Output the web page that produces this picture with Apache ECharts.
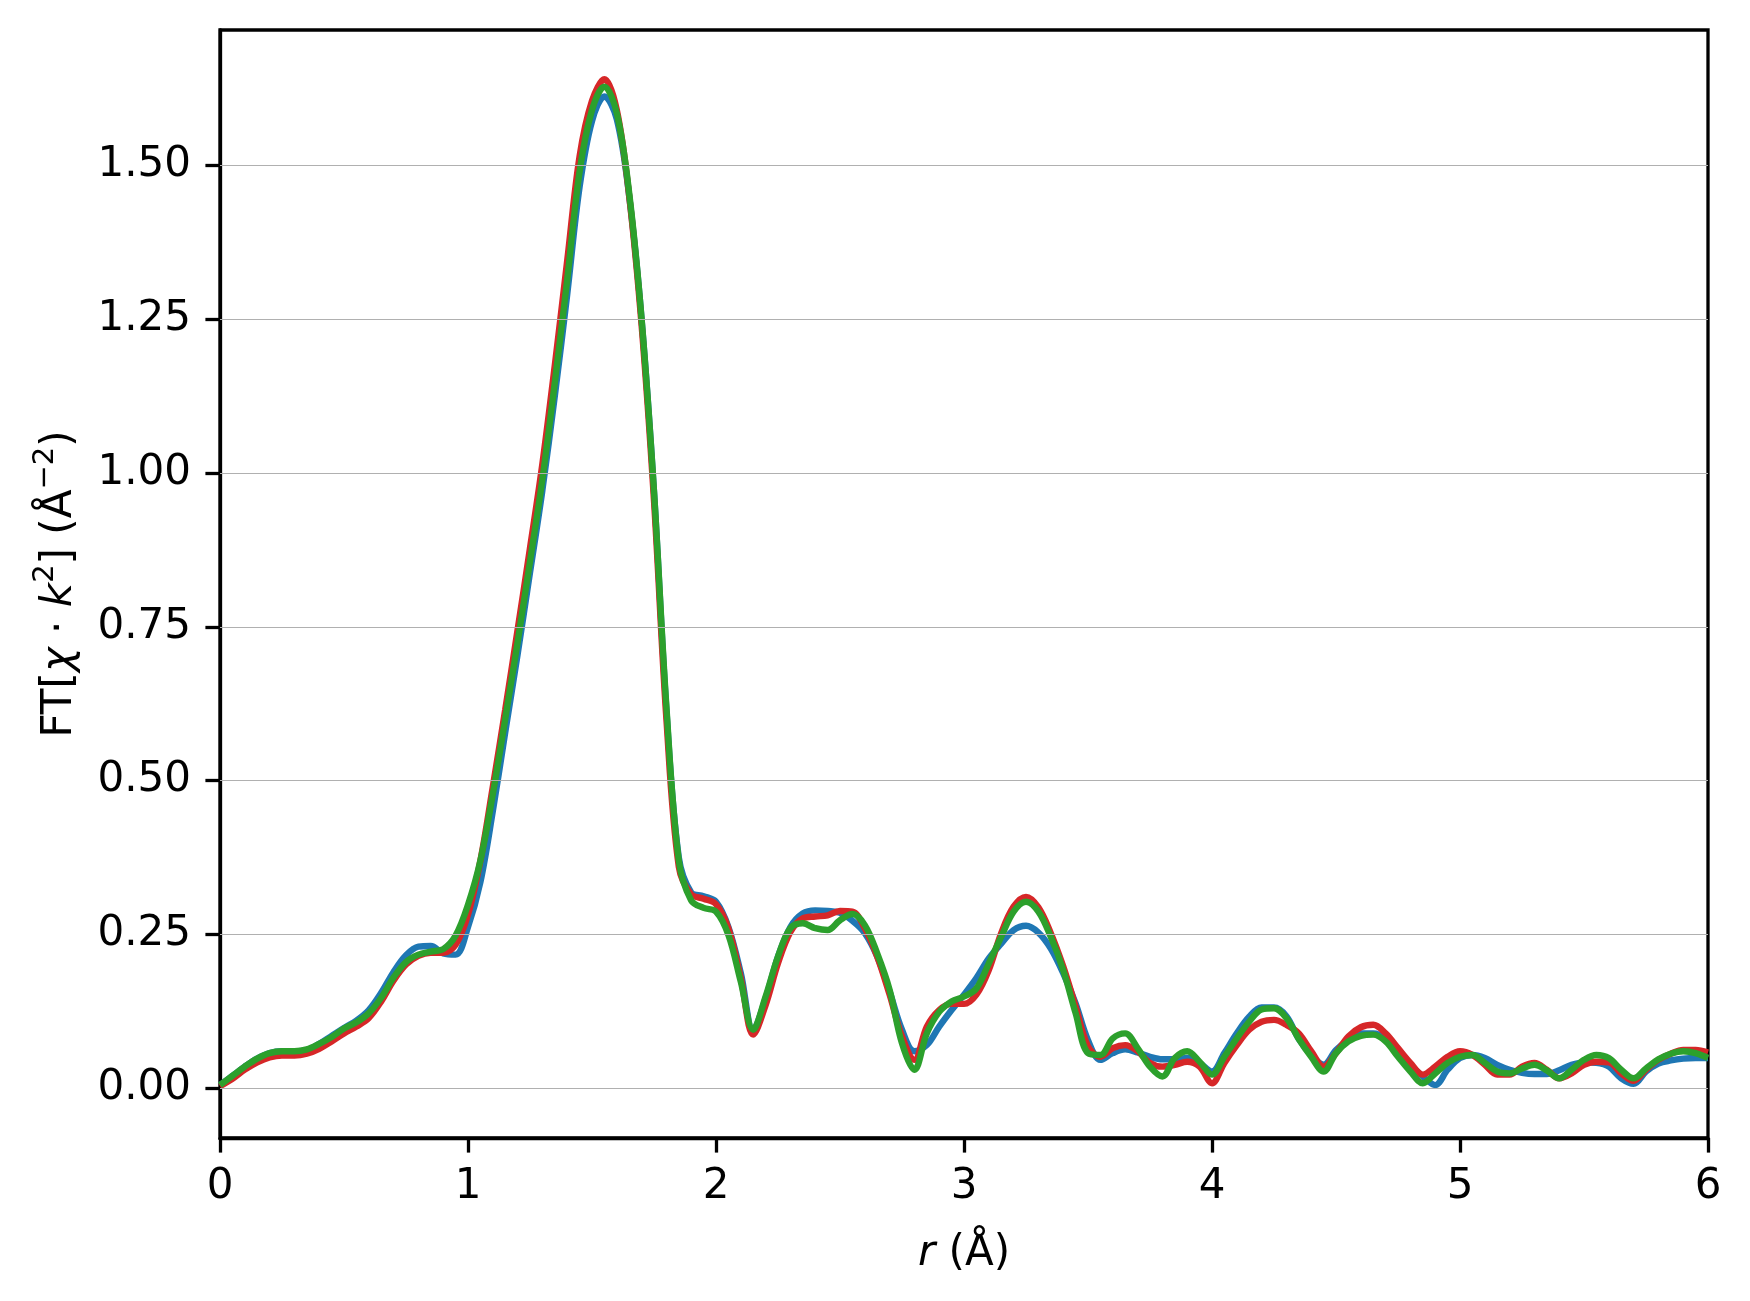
<!DOCTYPE html>
<html><head><meta charset="utf-8">
<script src="https://cdn.jsdelivr.net/npm/echarts@6/dist/echarts.min.js"></script>
<style>html,body{margin:0;padding:0;background:#fff;}#c{width:1750px;height:1301px;}</style>
</head><body><div id="c"></div>
<script>
const r = [0.00,0.05,0.10,0.15,0.20,0.25,0.30,0.35,0.40,0.45,0.50,0.55,0.60,0.65,0.70,0.75,0.80,0.85,0.90,0.95,
1.00,1.05,1.10,1.15,1.20,1.25,1.30,1.35,1.40,1.45,1.50,1.55,1.60,1.65,1.70,1.75,1.80,1.85,1.90,1.95,
2.00,2.05,2.10,2.15,2.20,2.25,2.30,2.35,2.40,2.45,2.50,2.55,2.60,2.65,2.70,2.75,2.80,2.85,2.90,2.95,
3.00,3.05,3.10,3.15,3.20,3.25,3.30,3.35,3.40,3.45,3.50,3.55,3.60,3.65,3.70,3.75,3.80,3.85,3.90,3.95,
4.00,4.05,4.10,4.15,4.20,4.25,4.30,4.35,4.40,4.45,4.50,4.55,4.60,4.65,4.70,4.75,4.80,4.85,4.90,4.95,
5.00,5.05,5.10,5.15,5.20,5.25,5.30,5.35,5.40,5.45,5.50,5.55,5.60,5.65,5.70,5.75,5.80,5.85,5.90,5.95,6.00];

const blue = [0.005,0.020,0.035,0.048,0.057,0.060,0.060,0.062,0.072,0.085,0.098,0.110,0.127,0.155,0.189,0.216,0.230,0.231,0.219,0.217,
0.262,0.335,0.450,0.578,0.705,0.838,0.972,1.125,1.290,1.465,1.572,1.612,1.575,1.450,1.250,0.970,0.615,0.375,0.318,0.312,
0.303,0.262,0.187,0.095,0.146,0.214,0.262,0.284,0.289,0.288,0.285,0.272,0.252,0.214,0.157,0.095,0.060,0.070,0.100,0.127,
0.152,0.179,0.211,0.235,0.257,0.264,0.253,0.227,0.187,0.138,0.078,0.046,0.057,0.063,0.058,0.051,0.047,0.047,0.049,0.041,
0.027,0.057,0.089,0.116,0.131,0.131,0.117,0.080,0.054,0.038,0.062,0.078,0.089,0.089,0.081,0.060,0.038,0.019,0.005,0.030,
0.049,0.054,0.049,0.038,0.030,0.025,0.023,0.023,0.029,0.038,0.042,0.041,0.035,0.016,0.007,0.027,0.040,0.045,0.048,0.049,0.049];

const red = [0.003,0.015,0.030,0.042,0.050,0.053,0.053,0.056,0.064,0.076,0.089,0.100,0.114,0.141,0.175,0.201,0.215,0.220,0.220,0.233,
0.282,0.370,0.490,0.615,0.745,0.878,1.015,1.175,1.345,1.515,1.605,1.640,1.590,1.450,1.240,0.955,0.600,0.360,0.315,0.308,
0.299,0.260,0.179,0.087,0.135,0.203,0.254,0.276,0.279,0.281,0.288,0.287,0.260,0.214,0.152,0.084,0.046,0.100,0.127,0.137,
0.137,0.152,0.192,0.252,0.295,0.311,0.294,0.252,0.198,0.133,0.068,0.051,0.065,0.070,0.060,0.041,0.035,0.038,0.043,0.035,
0.008,0.041,0.070,0.095,0.108,0.111,0.103,0.089,0.060,0.035,0.057,0.084,0.099,0.103,0.089,0.065,0.041,0.022,0.035,0.051,
0.060,0.054,0.038,0.022,0.022,0.035,0.041,0.030,0.016,0.024,0.038,0.043,0.042,0.024,0.012,0.030,0.046,0.056,0.062,0.062,0.058];

const green = [0.005,0.020,0.035,0.048,0.057,0.060,0.060,0.063,0.072,0.083,0.097,0.107,0.122,0.147,0.180,0.205,0.217,0.222,0.226,0.248,
0.298,0.370,0.478,0.600,0.725,0.856,0.990,1.147,1.314,1.490,1.590,1.628,1.585,1.455,1.250,0.970,0.620,0.370,0.305,0.293,
0.287,0.249,0.173,0.095,0.149,0.214,0.260,0.268,0.260,0.257,0.273,0.283,0.265,0.219,0.160,0.073,0.030,0.089,0.124,0.141,
0.149,0.162,0.203,0.246,0.287,0.303,0.287,0.246,0.192,0.122,0.057,0.054,0.081,0.089,0.065,0.035,0.019,0.049,0.060,0.043,
0.022,0.051,0.081,0.108,0.128,0.130,0.114,0.080,0.051,0.027,0.057,0.076,0.085,0.087,0.076,0.051,0.027,0.008,0.024,0.041,
0.051,0.054,0.041,0.027,0.024,0.032,0.038,0.029,0.016,0.030,0.046,0.054,0.049,0.030,0.016,0.032,0.047,0.056,0.060,0.057,0.049];

const yTicks = [0.00, 0.25, 0.50, 0.75, 1.00, 1.25, 1.50];
const xTicks = [0, 1, 2, 3, 4, 5, 6];

const FONT = 'DejaVu Sans';
const FS = 42;
const chart = echarts.init(document.getElementById('c'), null, {renderer: 'canvas'});
const pair = arr => r.map((x, i) => [x, arr[i]]);
const lineSeries = (name, arr, color, z) => ({
  name, type: 'line', data: pair(arr), showSymbol: false, symbol: 'none', smooth: 0.35,
  lineStyle: {color, width: 6.4}, itemStyle: {color}, z, animation: false
});
const richStyles = {
  i: {fontSize: FS, fontStyle: 'italic', fontFamily: FONT, color: '#000', lineHeight: 50, verticalAlign: 'bottom'},
  n: {fontSize: FS, fontFamily: FONT, color: '#000', lineHeight: 50, verticalAlign: 'bottom'},
  s: {fontSize: 29, fontFamily: FONT, color: '#000', lineHeight: 50, verticalAlign: 'top'}
};

chart.setOption({
  animation: false,
  backgroundColor: '#ffffff',
  grid: {left: 220, right: 42, top: 30, bottom: 163, show: true, borderColor: '#000', borderWidth: 3.3, backgroundColor: 'transparent'},
  xAxis: {
    type: 'value', min: 0, max: 6, interval: 1,
    axisLine: {show: true, onZero: false, lineStyle: {color: '#000', width: 3.3}},
    axisTick: {show: true, length: 14.6, inside: false, lineStyle: {color: '#000', width: 3.3}},
    axisLabel: {fontSize: FS, color: '#000', fontFamily: FONT, margin: 28, customValues: xTicks},
    splitLine: {show: false},
    name: '{i|r} {n|(Å)}', nameLocation: 'middle', nameGap: 87,
    nameTextStyle: {fontSize: FS, color: '#000', fontFamily: FONT, rich: richStyles}
  },
  yAxis: {
    type: 'value', min: -0.081, max: 1.72,
    axisLine: {show: true, onZero: false, lineStyle: {color: '#000', width: 3.3}},
    axisTick: {show: true, length: 14.6, inside: false, customValues: yTicks, lineStyle: {color: '#000', width: 3.3}},
    axisLabel: {fontSize: FS, color: '#000', fontFamily: FONT, margin: 29, customValues: yTicks,
      formatter: v => Number(v).toFixed(2)},
    splitLine: {show: false},
    name: '{n|FT[}{i|χ}{n| · }{i|k}{s|2}{n|] (Å}{s|−2}{n|)}', nameLocation: 'middle', nameGap: 139, nameRotate: 90,
    nameTextStyle: {fontSize: FS, color: '#000', fontFamily: FONT, rich: richStyles}
  },
  series: [
    {type: 'line', data: [[0, 0], [6, 0]], symbol: 'none', lineStyle: {opacity: 0, width: 0}, z: 1, silent: true,
      markLine: {silent: true, symbol: 'none', animation: false, label: {show: false},
        lineStyle: {color: '#b0b0b0', width: 1.2, type: 'solid'},
        data: yTicks.map(v => ({yAxis: v}))}},
    lineSeries('blue', blue, '#1f77b4', 2),
    lineSeries('red', red, '#d62728', 3),
    lineSeries('green', green, '#2ca02c', 4)
  ]
});
</script></body></html>
